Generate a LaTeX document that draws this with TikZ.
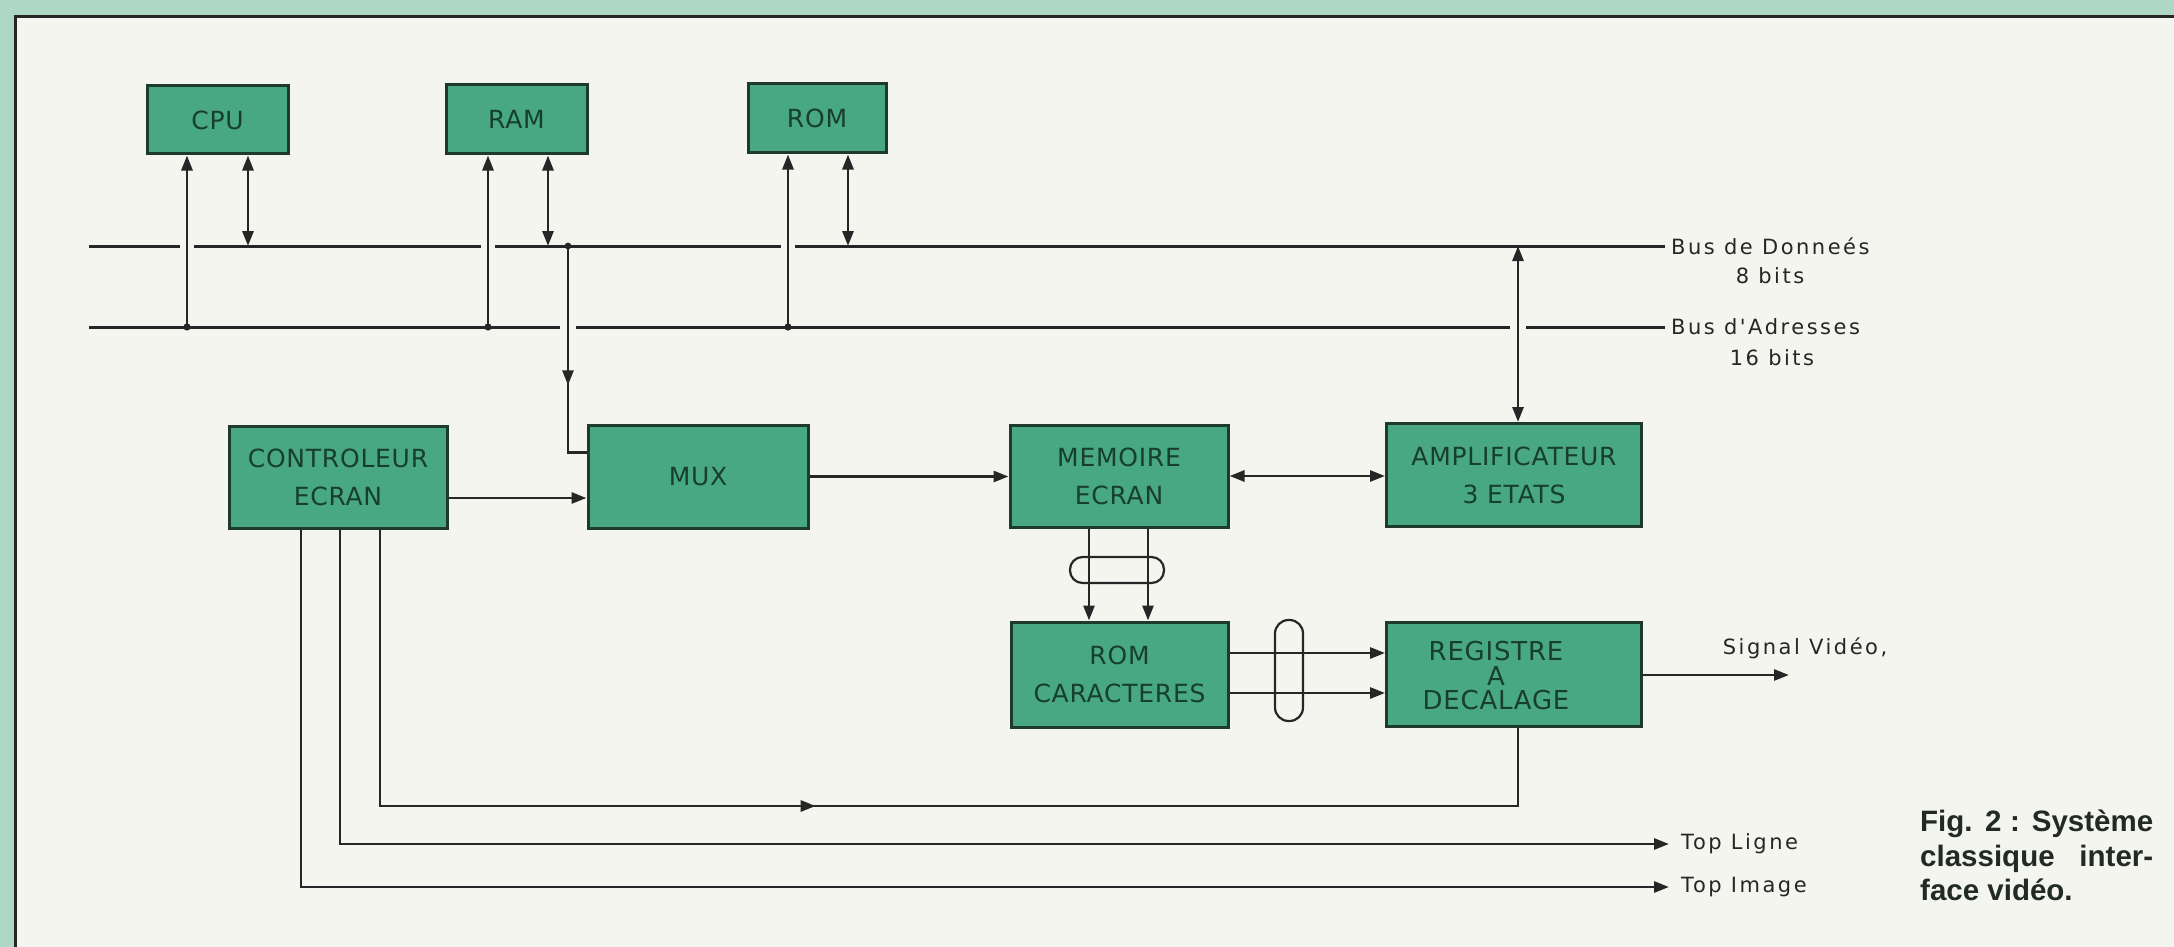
\documentclass[tikz,border=0pt]{standalone}
\usepackage{fontspec}
\setmainfont{DejaVu Sans}
\newfontfamily\boxfont{DejaVu Sans}[LetterSpace=3]
\newfontfamily\labfont{DejaVu Sans}[LetterSpace=12]
\newfontfamily\capfont{Liberation Sans}
\usetikzlibrary{arrows.meta,calc,decorations.markings}
\definecolor{outerc}{HTML}{AFD7C8}
\definecolor{bgc}{HTML}{F5F5F0}
\definecolor{boxfill}{HTML}{48A883}
\definecolor{boxline}{HTML}{1E3A2C}
\definecolor{boxtext}{HTML}{173F2B}
\definecolor{linec}{HTML}{262626}
\definecolor{capc}{HTML}{222A26}
\begin{document}
\begin{tikzpicture}[x=1pt,y=-1pt,
  box/.style={draw=boxline, line width=3pt, fill=boxfill, text=boxtext, inner sep=0pt, align=center, font=\boxfont\fontsize{25}{38}\selectfont},
  wire/.style={draw=linec, line width=2.8pt},
  bus/.style={draw=linec, line width=3pt},
  arr/.style={wire, -{Triangle[length=15pt,width=11pt]}},
  darr/.style={wire, {Triangle[length=15pt,width=11pt]}-{Triangle[length=15pt,width=11pt]}},
  gap/.style={draw=bgc, line width=5.5pt},
  lab/.style={text=linec, inner sep=0pt, font=\labfont\fontsize{21}{25}\selectfont},
  capn/.style={text=capc, inner sep=0pt, font=\capfont\bfseries\fontsize{29.5}{35}\selectfont, anchor=base west},
  pill/.style={draw=linec, line width=2.2pt, inner sep=0pt},
  midarrow/.style={postaction={decorate}, decoration={markings, mark=at position #1 with {\arrow{Triangle[length=15pt,width=11pt]}}}}
]
% background and frame
\useasboundingbox (0,0) rectangle (2174,947);
\fill[outerc] (0,0) rectangle (2174,947);
\fill[bgc] (15.7,16.7) rectangle (2174,947);
\draw[linec, line width=2.8pt] (15.7,947) -- (15.7,16.7) -- (2174,16.7);

% boxes
\node[box, minimum width=141pt, minimum height=68pt] (cpu) at (217.5,120) {CPU};
\node[box, minimum width=141pt, minimum height=69pt] (ram) at (516.5,119.5) {RAM};
\node[box, minimum width=138pt, minimum height=69pt] (rom) at (817,118.5) {ROM};
\node[box, minimum width=218pt, minimum height=102pt] (ctrl) at (338,477) {CONTROLEUR\\ECRAN};
\node[box, minimum width=220pt, minimum height=103pt] (mux) at (698,476.5) {MUX};
\node[box, minimum width=218pt, minimum height=102pt] (mem) at (1119,476) {MEMOIRE\\ECRAN};
\node[box, minimum width=255pt, minimum height=103pt] (ampli) at (1514,475) {AMPLIFICATEUR\\3 ETATS};
\node[box, minimum width=217pt, minimum height=105pt] (romc) at (1119.5,674.5) {ROM\\CARACTERES};
\node[box, minimum width=255pt, minimum height=104pt,
  label={[xshift=-18pt, yshift=-2pt, align=center, text=boxtext, inner sep=0pt, font=\boxfont\fontsize{26}{24.5}\selectfont]center:REGISTRE\\A\\DECALAGE}] (reg) at (1514,674) {};

% bus coordinates
\coordinate (dL) at (89,246);
\coordinate (dR) at (1665,246);
\coordinate (aL) at (89,327);
\coordinate (aR) at (1665,327);
\coordinate (cpuA) at (187,0);
\coordinate (cpuD) at (248,0);
\coordinate (ramA) at (488,0);
\coordinate (ramD) at (548,0);
\coordinate (romA) at (788,0);
\coordinate (romD) at (848,0);
\coordinate (muxF) at (568,0);
\coordinate (ampA) at (1518,0);
\coordinate (muxIn) at ($(mux.north west)!0.27!(mux.south west)$);
\coordinate (ctrlOut) at ($(ctrl.north east)!0.7!(ctrl.south east)$);
\coordinate (m1) at (1089,0);
\coordinate (m2) at (1148,0);
\coordinate (r1) at (0,653);
\coordinate (r2) at (0,693);
\coordinate (sigEnd) at (1789,675);
\coordinate (c1) at (301,0);
\coordinate (c2) at (340,0);
\coordinate (c3) at (380,0);
\coordinate (regB) at (1518,0);
\coordinate (fb) at (0,806);
\coordinate (tl) at (0,844);
\coordinate (ti) at (0,887);
\coordinate (tlEnd) at (1669,844);
\coordinate (tiEnd) at (1669,887);

% buses
\draw[bus] (dL) -- (dR);
\draw[bus] (aL) -- (aR);
\node[lab, anchor=west] (busd) at ($(dR)+(6,0)$) {Bus de Donneés};
\node[lab] (bitsd) at (1770,276) {8 bits};
\node[lab, anchor=west] (busa) at ($(aR)+(6,0)$) {Bus d'Adresses};
\node[lab] (bitsa) at (1772,358) {16 bits};

% gaps where lines cross without connection
\foreach \c in {cpuA,ramA,romA}{
  \draw[gap] ($(\c |- dL)+(-7,0)$) -- ($(\c |- dL)+(7,0)$);
}
\foreach \c in {muxF,ampA}{
  \draw[gap] ($(\c |- aL)+(-8,0)$) -- ($(\c |- aL)+(8,0)$);
}

% CPU, RAM, ROM connections
\draw[arr] (cpuA |- aL) -- (cpuA |- cpu.south);
\draw[darr] (cpuD |- dL) -- (cpuD |- cpu.south);
\draw[arr] (ramA |- aL) -- (ramA |- ram.south);
\draw[darr] (ramD |- dL) -- (ramD |- ram.south);
\draw[arr] (romA |- aL) -- (romA |- rom.south);
\draw[darr] (romD |- dL) -- (romD |- rom.south);
\foreach \c in {cpuA,ramA,romA}{
  \fill[linec] (\c |- aL) circle[radius=3.6pt];
}
\fill[linec] (muxF |- dL) circle[radius=3.4pt];

% data bus to MUX
\draw[wire, midarrow=0.62] (muxF |- dL) -- (muxF |- muxIn) -- (muxIn);

% main data path
\draw[arr] (ctrlOut) -- (ctrlOut -| mux.west);
\draw[arr] (mux.east) -- (mux.east -| mem.west);
\draw[darr] (mem.east) -- (mem.east -| ampli.west);
\draw[darr] (ampA |- dL) -- (ampA |- ampli.north);

% memory to character ROM
\draw[arr] (m1 |- mem.south) -- (m1 |- romc.north);
\draw[arr] (m2 |- mem.south) -- (m2 |- romc.north);
\node[pill, minimum width=94pt, minimum height=26pt, rounded corners=12.5pt] (pill1) at (1117,570) {};

% character ROM to shift register
\draw[arr] (romc.east |- r1) -- (reg.west |- r1);
\draw[arr] (romc.east |- r2) -- (reg.west |- r2);
\node[pill, minimum width=28pt, minimum height=101pt, rounded corners=13.5pt] (pill2) at (1289,670.5) {};

% video out
\draw[arr] (reg.east |- sigEnd) -- (sigEnd);
\node[lab] (sig) at (1805,648) {Signal Vidéo,};

% controller outputs
\draw[wire, midarrow=0.477] (c3 |- ctrl.south) -- (c3 |- fb) -- (regB |- fb) -- (regB |- reg.south);
\draw[arr] (c2 |- ctrl.south) -- (c2 |- tl) -- (tlEnd);
\draw[arr] (c1 |- ctrl.south) -- (c1 |- ti) -- (tiEnd);
\node[lab, anchor=west] (tlt) at ($(tlEnd)+(12,0)$) {Top Ligne};
\node[lab, anchor=west] (tit) at ($(tiEnd)+(12,0)$) {Top Image};

% caption
\node[capn] (cap1) at (1920,831) {\makebox[233pt][s]{Fig. 2 : Système}};
\node[capn] (cap2) at (1920,866) {\makebox[233pt][s]{classique inter-}};
\node[capn] (cap3) at (1920,900) {face vidéo.};
\end{tikzpicture}
\end{document}
